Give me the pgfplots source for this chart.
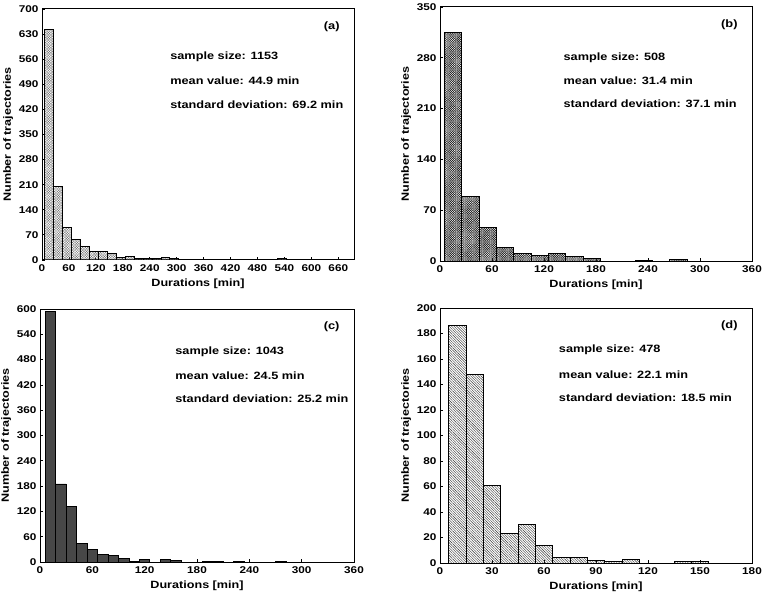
\documentclass[border=0pt]{standalone}
\usepackage{pgfplots}
\pgfplotsset{compat=1.18}
\usepackage{fontspec}
\setmainfont{Liberation Sans}[FakeStretch=1.2]
\usetikzlibrary{patterns.meta}

\pgfplotsset{
  hist/.style={
    scale only axis,
    axis line style={line width=1pt},
    tick align=inside,
    xtick pos=bottom, ytick pos=left,
    major tick length=3pt,
    tick style={black, line width=0.8pt},
    xmin=0, ymin=0,
    enlargelimits=false,
    /pgf/number format/assume math mode=true,
    ticklabel style={font=\fontsize{9.8}{11}\selectfont\bfseries},
    xticklabel style={yshift=-1.5pt},
    xlabel={Durations [min]},
    ylabel={Number of trajectories},
    label style={font=\fontsize{10.5}{12}\selectfont\bfseries},
    xlabel style={yshift=0pt},
    ylabel style={yshift=-1pt},
    anchor=south west,
  },
  barst/.style={ybar, bar shift=0pt, draw=black, line width=0.9pt},
}
\tikzset{
  note/.style={font=\fontsize{10.6}{12}\selectfont\bfseries, anchor=west},
  tag/.style={font=\fontsize{10.7}{12}\selectfont\bfseries, anchor=east},
}

\begin{document}
\begin{tikzpicture}
\useasboundingbox (0pt,0pt) rectangle (762pt,595pt);

% (a)
\begin{axis}[hist, at={(42pt,335pt)}, width=312pt, height=251pt,
  xmax=695, ymax=700, xtick={0,60,...,660}, ytick={0,70,...,700}]
\addplot[barst, bar width=20, pattern={Hatch[angle=45,distance=1.8pt,line width=0.3pt]}, pattern color=black!55]
 coordinates {(15,644)(35,205)(55,92)(75,58)(95,38)(115,24)(135,24)(155,18)(175,6)(195,9)(215,3)(235,3)(255,3)(275,7)(295,3)(315,2)(335,2)(355,1)(375,1)(515,2)(535,3)(575,1)};
\node[tag] at (rel axis cs:0.965,0.93) {(a)};
\node[note] at (rel axis cs:0.40,0.81) {sample size: 1153};
\node[note] at (rel axis cs:0.40,0.715) {mean value: 44.9 min};
\node[note] at (rel axis cs:0.40,0.62) {standard deviation: 69.2 min};
\end{axis}

% (b)
\begin{axis}[hist, at={(440pt,334pt)}, width=312pt, height=254pt,
  xmax=360, ymax=350, xtick={0,60,...,360}, ytick={0,70,...,350}]
\addplot[barst, bar width=20, pattern={Hatch[angle=45,distance=1.6pt,line width=0.45pt]}, pattern color=black!85]
 coordinates {(15,315)(35,89)(55,46)(75,18)(95,10)(115,8)(135,11)(155,6)(175,3)(235,1)(275,2)};
\node[tag] at (rel axis cs:0.965,0.93) {(b)};
\node[note] at (rel axis cs:0.385,0.80) {sample size: 508};
\node[note] at (rel axis cs:0.385,0.71) {mean value: 31.4 min};
\node[note] at (rel axis cs:0.385,0.62) {standard deviation: 37.1 min};
\end{axis}

% (c)
\begin{axis}[hist, at={(40pt,33pt)}, width=314pt, height=253pt,
  xmax=360, ymax=600, xtick={0,60,...,360}, ytick={0,60,...,600}]
\addplot[barst, bar width=12, fill=black!72]
 coordinates {(12,594)(24,185)(36,132)(48,44)(60,30)(72,18)(84,15)(96,8)(108,2)(120,6)(144,5)(156,3)(192,1)(204,1)(228,1)(276,1)};
\node[tag] at (rel axis cs:0.965,0.93) {(c)};
\node[note] at (rel axis cs:0.42,0.83) {sample size: 1043};
\node[note] at (rel axis cs:0.42,0.735) {mean value: 24.5 min};
\node[note] at (rel axis cs:0.42,0.645) {standard deviation: 25.2 min};
\end{axis}

% (d)
\begin{axis}[hist, at={(440pt,32pt)}, width=312pt, height=255pt,
  xmax=180, ymax=200, xtick={0,30,...,180}, ytick={0,20,...,200}]
\addplot[barst, bar width=10, pattern={Lines[angle=-45,distance=1.8pt,line width=0.4pt]}, pattern color=black!80]
 coordinates {(10,186)(20,148)(30,61)(40,23)(50,30)(60,14)(70,4)(80,4)(90,2)(100,1)(110,3)(140,1)(150,1)};
\node[tag] at (rel axis cs:0.965,0.93) {(d)};
\node[note] at (rel axis cs:0.37,0.835) {sample size: 478};
\node[note] at (rel axis cs:0.37,0.737) {mean value: 22.1 min};
\node[note] at (rel axis cs:0.37,0.65) {standard deviation: 18.5 min};
\end{axis}
\end{tikzpicture}
\end{document}
